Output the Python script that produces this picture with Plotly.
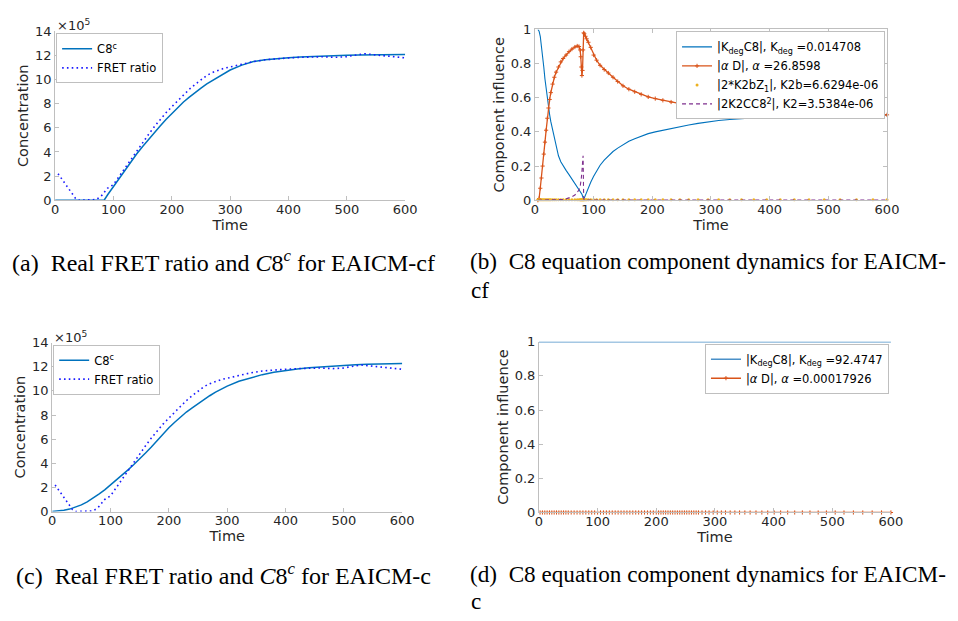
import plotly.graph_objects as go

# ---------------- data ----------------
# Panels (a)/(c): FRET ratio (real data, x1e5)
fret_t = [5, 10, 15, 20, 25, 30, 35, 40, 50, 60, 70, 75, 80, 85, 90, 100, 110, 120, 130, 140,
          150, 160, 170, 180, 190, 200, 210, 220, 230, 240, 250, 260, 270, 280, 290, 300,
          320, 340, 360, 380, 400, 420, 440, 460, 480, 490, 500, 510, 520, 530, 540, 550,
          560, 570, 580, 590, 600]
fret_v = [2.2, 1.85, 1.5, 1.15, 0.8, 0.45, 0.15, 0.0, 0.0, 0.0, 0.05, 0.2, 0.4, 0.7, 1.0, 1.3,
          2.0, 2.75, 3.45, 4.15, 4.8, 5.45, 6.1, 6.7, 7.25, 7.75, 8.25, 8.75, 9.2, 9.6, 10.0,
          10.35, 10.6, 10.8, 10.95, 11.05, 11.3, 11.5, 11.65, 11.75, 11.8, 11.85, 11.88,
          11.9, 11.85, 11.85, 11.9, 12.0, 12.1, 12.15, 12.1, 12.05, 12.0, 11.95, 11.9,
          11.85, 11.8]

# Panel (a): C8^c for EAICM-cf
c8a_t = [0, 20, 40, 60, 80, 84, 90, 100, 110, 120, 130, 140, 150, 160, 170, 180, 190, 200,
         210, 220, 230, 240, 250, 260, 270, 280, 290, 300, 320, 340, 360, 380, 400, 420,
         440, 460, 480, 500, 520, 540, 560, 580, 600]
c8a_v = [0, 0, 0, 0, 0, 0, 0.45, 1.15, 1.85, 2.55, 3.2, 3.85, 4.45, 5.05, 5.6, 6.15, 6.7, 7.2,
         7.7, 8.15, 8.55, 8.95, 9.3, 9.65, 9.95, 10.25, 10.55, 10.8, 11.2, 11.5, 11.65,
         11.75, 11.82, 11.88, 11.93, 11.97, 12.0, 12.02, 12.05, 12.07, 12.08, 12.08, 12.08]

# Panel (c): C8^c for EAICM-c
c8c_t = [0, 10, 20, 30, 40, 50, 60, 70, 80, 90, 100, 110, 120, 130, 140, 150, 160, 170, 180,
         190, 200, 210, 220, 230, 240, 250, 260, 270, 280, 290, 300, 320, 340, 360, 380,
         400, 420, 440, 460, 480, 500, 520, 540, 560, 580, 600]
c8c_v = [0, 0.03, 0.1, 0.2, 0.35, 0.55, 0.8, 1.1, 1.45, 1.8, 2.2, 2.6, 3.0, 3.45, 3.9, 4.35,
         4.85, 5.35, 5.9, 6.45, 6.95, 7.4, 7.85, 8.25, 8.6, 8.95, 9.3, 9.6, 9.9, 10.15, 10.4,
         10.8, 11.1, 11.35, 11.55, 11.7, 11.82, 11.92, 12.0, 12.07, 12.13, 12.18, 12.22,
         12.25, 12.27, 12.28]

# Panel (b): component influence, EAICM-cf
tb = [5, 7, 9, 11, 13, 15, 17, 19, 21, 23, 25, 27, 30, 33, 36, 40, 44, 48, 53, 58, 63, 68,
      72, 75, 77, 78, 79, 80, 81, 82, 83, 84, 86, 88, 91, 95, 100, 105, 111, 118, 125, 133,
      141, 150, 160, 170, 181, 193, 205, 218, 232, 247, 262, 278, 295, 313, 332, 352, 373,
      395, 418, 442, 467, 493, 520, 548, 576, 600]
b_kdeg = [1.0, 0.99, 0.96, 0.91, 0.85, 0.78, 0.71, 0.65, 0.59, 0.54, 0.5, 0.46, 0.41, 0.36,
          0.31, 0.26, 0.225, 0.2, 0.175, 0.15, 0.125, 0.1, 0.08, 0.065, 0.055, 0.05, 0.043,
          0.035, 0.025, 0.012, 0.003, 0.012, 0.03, 0.05, 0.075, 0.105, 0.14, 0.17, 0.205,
          0.235, 0.26, 0.285, 0.305, 0.325, 0.345, 0.36, 0.375, 0.39, 0.4, 0.41, 0.42, 0.43,
          0.44, 0.45, 0.46, 0.467, 0.473, 0.478, 0.483, 0.487, 0.49, 0.493, 0.495, 0.497,
          0.498, 0.499, 0.4995, 0.5]
b_alpha = [0.0, 0.01, 0.07, 0.13, 0.2, 0.27, 0.34, 0.41, 0.48, 0.54, 0.59, 0.63, 0.68, 0.72,
           0.75, 0.78, 0.81, 0.83, 0.85, 0.87, 0.885, 0.897, 0.903, 0.9, 0.88, 0.84, 0.78,
           0.73, 0.76, 0.88, 0.98, 0.975, 0.96, 0.945, 0.925, 0.895, 0.85, 0.82, 0.79,
           0.765, 0.745, 0.72, 0.695, 0.67, 0.65, 0.635, 0.62, 0.605, 0.595, 0.585, 0.575,
           0.565, 0.555, 0.545, 0.535, 0.528, 0.522, 0.517, 0.513, 0.51, 0.507, 0.505, 0.503,
           0.502, 0.501, 0.5005, 0.5002, 0.5]
b_k2b = [0.003, 0.003, 0.003, 0.003, 0.003, 0.003, 0.003, 0.003, 0.003, 0.003, 0.003, 0.003,
         0.003, 0.003, 0.003, 0.003, 0.003, 0.003, 0.003, 0.003, 0.003, 0.003, 0.003, 0.003,
         0.003, 0.003, 0.003, 0.003, 0.003, 0.003, 0.003, 0.003, 0.003, 0.003, 0.003, 0.003,
         0.003, 0.003, 0.003, 0.003, 0.003, 0.002, 0.002, 0.002, 0.002, 0.002, 0.002, 0.002,
         0.002, 0.002, 0.002, 0.002, 0.002, 0.002, 0.002, 0.002, 0.002, 0.002, 0.002, 0.002,
         0.002, 0.002, 0.002, 0.002, 0.002, 0.002, 0.002, 0.002]
b_k2 = [0.0, 0.0, 0.0, 0.0, 0.001, 0.001, 0.001, 0.001, 0.001, 0.001, 0.001, 0.001, 0.001,
        0.002, 0.002, 0.002, 0.003, 0.004, 0.008, 0.012, 0.02, 0.03, 0.045, 0.06, 0.08, 0.1,
        0.13, 0.17, 0.22, 0.26, 0.01, 0.003, 0.002, 0.001, 0.001, 0.001, 0.001, 0.001,
        0.001, 0.001, 0.001, 0.001, 0.001, 0.001, 0.001, 0.001, 0.001, 0.001, 0.001, 0.001,
        0.001, 0.001, 0.001, 0.001, 0.001, 0.001, 0.001, 0.001, 0.001, 0.001, 0.001, 0.001,
        0.001, 0.001, 0.001, 0.001, 0.001, 0.001]

# Panel (d): component influence, EAICM-c
td_kdeg = [0, 100, 200, 300, 400, 500, 600]
d_kdeg = [1.0, 1.0, 1.0, 1.0, 1.0, 1.0, 1.0]
td = [2, 6, 10, 14, 18, 22, 26, 30, 34, 38, 42, 46, 50, 55, 60, 65, 70, 75, 80, 85, 90, 95,
      100, 105, 110, 115, 120, 125, 130, 135, 140, 145, 150, 155, 160, 165, 170, 175, 180,
      185, 190, 195, 200, 204, 208, 212, 216, 220, 224, 228, 232, 236, 240, 244, 248, 252,
      256, 260, 264, 268, 272, 278, 284, 290, 297, 304, 311, 318, 326, 334, 342, 351, 360,
      370, 380, 390, 401, 412, 424, 436, 449, 462, 476, 490, 505, 520, 536, 552, 568, 584,
      600]
d_alpha = [0.0, 0.0, 0.0, 0.0, 0.0, 0.0, 0.0, 0.0, 0.0, 0.0, 0.0, 0.0, 0.0, 0.0, 0.0, 0.0,
           0.0, 0.0, 0.0, 0.0, 0.0, 0.0, 0.0, 0.0, 0.0, 0.0, 0.0, 0.0, 0.0, 0.0, 0.0, 0.0,
           0.0, 0.0, 0.0, 0.0, 0.0, 0.0, 0.0, 0.0, 0.0, 0.0, 0.0, 0.0, 0.0, 0.0, 0.0, 0.0,
           0.0, 0.0, 0.0, 0.0, 0.0, 0.0, 0.0, 0.0, 0.0, 0.0, 0.0, 0.0, 0.0, 0.0, 0.0, 0.0,
           0.0, 0.0, 0.0, 0.0, 0.0, 0.0, 0.0, 0.0, 0.0, 0.0, 0.0, 0.0, 0.0, 0.0, 0.0, 0.0,
           0.0, 0.0, 0.0, 0.0, 0.0, 0.0, 0.0, 0.0, 0.0, 0.0, 0.0]

conc_ticks = [0, 2, 4, 6, 8, 10, 12, 14]
infl_ticks = [0, 0.2, 0.4, 0.6, 0.8, 1]
time_ticks = [0, 100, 200, 300, 400, 500, 600]

names_a = ["C8<sup>c</sup>", "FRET ratio"]
names_b = ["|K<sub>deg</sub>C8|, K<sub>deg</sub> =0.014708",
           "|<i>α</i> D|, <i>α</i> =26.8598",
           "|2*K2bZ<sub>1</sub>|, K2b=6.6294e-06",
           "|2K2CC8<sup>2</sup>|, K2=3.5384e-06"]
names_d = ["|K<sub>deg</sub>C8|, K<sub>deg</sub> =92.4747",
           "|<i>α</i> D|, <i>α</i> =0.00017926"]

# ---------------- styling ----------------
W, H = 958, 621
BLUE = "#0072BD"
ORANGE = "#D95319"
YELLOW = "#EDB120"
PURPLE = "#7E2F8E"
DOT = "#1a1aff"
AX = "#bfbfbf"
TXT = "#262626"
SANS = "DejaVu Sans"
SERIF = "Liberation Serif"


def px_x(p):
    return p / W


def px_y(p):
    return 1 - p / H


fig = go.Figure()

DOTSTYLE = dict(color=DOT, width=1.6, dash="1.6px,3.2px")

# (a)
fig.add_trace(go.Scatter(x=c8a_t, y=c8a_v, mode="lines", name=names_a[0],
                         line=dict(color=BLUE, width=1.5), xaxis="x", yaxis="y",
                         legend="legend", cliponaxis=False))
fig.add_trace(go.Scatter(x=fret_t, y=fret_v, mode="lines", name=names_a[1],
                         line=DOTSTYLE, xaxis="x", yaxis="y",
                         legend="legend", cliponaxis=False))
# (b)
fig.add_trace(go.Scatter(x=tb, y=b_kdeg, mode="lines", name=names_b[0],
                         line=dict(color=BLUE, width=1.1), xaxis="x2", yaxis="y2",
                         legend="legend2", cliponaxis=False))
fig.add_trace(go.Scatter(x=tb, y=b_alpha, mode="lines+markers", name=names_b[1],
                         line=dict(color=ORANGE, width=1.3),
                         marker=dict(symbol="cross-thin", size=3,
                                     line=dict(color=ORANGE, width=1)),
                         xaxis="x2", yaxis="y2", legend="legend2", cliponaxis=False))
fig.add_trace(go.Scatter(x=tb, y=b_k2b, mode="markers", name=names_b[2],
                         marker=dict(symbol="circle", size=3, color=YELLOW),
                         xaxis="x2", yaxis="y2", legend="legend2", cliponaxis=False))
fig.add_trace(go.Scatter(x=tb, y=b_k2, mode="lines", name=names_b[3],
                         line=dict(color=PURPLE, width=1.1, dash="4px,3px"),
                         xaxis="x2", yaxis="y2", legend="legend2", cliponaxis=False))
# (c)
fig.add_trace(go.Scatter(x=c8c_t, y=c8c_v, mode="lines", name=names_a[0],
                         line=dict(color=BLUE, width=1.5), xaxis="x3", yaxis="y3",
                         legend="legend3", cliponaxis=False))
fig.add_trace(go.Scatter(x=fret_t, y=fret_v, mode="lines", name=names_a[1],
                         line=DOTSTYLE, xaxis="x3", yaxis="y3",
                         legend="legend3", cliponaxis=False))
# (d)
fig.add_trace(go.Scatter(x=td_kdeg, y=d_kdeg, mode="lines", name=names_d[0],
                         line=dict(color="#4a90c8", width=1.5), xaxis="x4", yaxis="y4",
                         legend="legend4", cliponaxis=False))
fig.add_trace(go.Scatter(x=td, y=d_alpha, mode="lines+markers", name=names_d[1],
                         line=dict(color=ORANGE, width=1.5),
                         marker=dict(symbol="cross-thin", size=3,
                                     line=dict(color=ORANGE, width=1)),
                         xaxis="x4", yaxis="y4", legend="legend4", cliponaxis=False))

tickfont = dict(family=SANS, size=13, color=TXT)
titlefont = dict(family=SANS, size=14.5, color=TXT)


def xax(dom, anchor, mirror=False):
    return dict(domain=dom, anchor=anchor, range=[0, 600], tickvals=time_ticks,
                showgrid=False, zeroline=False, showline=True, linecolor=AX, linewidth=1,
                ticks="inside", ticklen=4, tickcolor=AX, tickfont=tickfont,
                ticklabelstandoff=-3,
                title=dict(text="Time", font=titlefont, standoff=0),
                mirror="ticks" if mirror else False)


def yax(dom, anchor, rng, tv, title, mirror=False, standoff=4):
    return dict(domain=dom, anchor=anchor, range=rng, tickvals=tv,
                showgrid=False, zeroline=False, showline=True, linecolor=AX, linewidth=1,
                ticks="inside", ticklen=4, tickcolor=AX, tickfont=tickfont,
                title=dict(text=title, font=titlefont, standoff=standoff),
                mirror="ticks" if mirror else False)


pa = dict(x=[px_x(52), px_x(408)], y=[px_y(198), px_y(25)])
pb = dict(x=[px_x(540), px_x(898)], y=[px_y(198), px_y(23)])
pc = dict(x=[px_x(49), px_x(405)], y=[px_y(517), px_y(344)])
pd = dict(x=[px_x(544), px_x(902)], y=[px_y(518), px_y(343)])

legfont = dict(family=SANS, size=11.5, color="#000000")


def leg(x, y, xanchor):
    return dict(x=x, y=y, xanchor=xanchor, yanchor="top", xref="paper", yref="paper",
                bgcolor="white", bordercolor=AX, borderwidth=1, font=legfont,
                itemwidth=30, tracegroupgap=0, itemclick=False)


fig.update_layout(
    width=W, height=H, margin=dict(l=0, r=0, t=0, b=0),
    paper_bgcolor="white", plot_bgcolor="white",
    xaxis=xax(pa["x"], "y"),
    yaxis=yax(pa["y"], "x", [0, 14], conc_ticks, "Concentration", standoff=2),
    xaxis2=xax(pb["x"], "y2", mirror=True),
    yaxis2=yax(pb["y"], "x2", [0, 1], infl_ticks, "Component influence", mirror=True,
               standoff=2),
    xaxis3=xax(pc["x"], "y3"),
    yaxis3=yax(pc["y"], "x3", [0, 14], conc_ticks, "Concentration", standoff=2),
    xaxis4=xax(pd["x"], "y4"),
    yaxis4=yax(pd["y"], "x4", [0, 1], infl_ticks, "Component influence", standoff=2),
    legend=leg(px_x(53), px_y(27), "left"),
    legend2=leg(px_x(896), px_y(25), "right"),
    legend3=leg(px_x(50), px_y(346), "left"),
    legend4=leg(px_x(900), px_y(345), "right"),
    showlegend=True,
)

capfont = dict(family=SERIF, size=24, color="#000000")
capfont2 = dict(family=SERIF, size=23.2, color="#000000")
NB = "\u00a0"
ann = [
    dict(text="×10<sup>5</sup>", x=px_x(52), y=px_y(18), xanchor="left", yanchor="middle",
         font=dict(family=SANS, size=13, color=TXT)),
    dict(text="×10<sup>5</sup>", x=px_x(49), y=px_y(338), xanchor="left", yanchor="middle",
         font=dict(family=SANS, size=13, color=TXT)),
    dict(text="(a)" + NB * 2 + "Real FRET ratio and <i>C</i>8<sup><i>c</i></sup> for EAICM-cf",
         x=px_x(6), y=px_y(260), xanchor="left", yanchor="middle", font=capfont),
    dict(text="(b)" + NB * 2 + "C8 equation component dynamics for EAICM-",
         x=px_x(472), y=px_y(260), xanchor="left", yanchor="middle", font=capfont2),
    dict(text="cf", x=px_x(473), y=px_y(290), xanchor="left", yanchor="middle", font=capfont2),
    dict(text="(c)" + NB * 2 + "Real FRET ratio and <i>C</i>8<sup><i>c</i></sup> for EAICM-c",
         x=px_x(10), y=px_y(581), xanchor="left", yanchor="middle", font=capfont),
    dict(text="(d)" + NB * 2 + "C8 equation component dynamics for EAICM-",
         x=px_x(472), y=px_y(581), xanchor="left", yanchor="middle", font=capfont2),
    dict(text="c", x=px_x(473), y=px_y(609), xanchor="left", yanchor="middle", font=capfont2),
]
for a in ann:
    a.update(xref="paper", yref="paper", showarrow=False)
fig.update_layout(annotations=ann)

fig.write_html("out.html")
